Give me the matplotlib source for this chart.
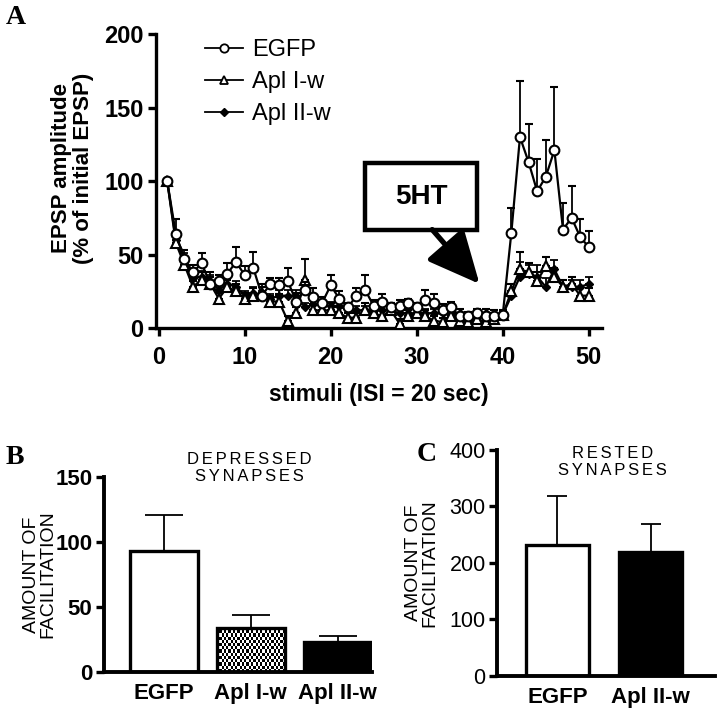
import numpy as np
import matplotlib
matplotlib.use("Agg")
import matplotlib.pyplot as plt
from matplotlib.patches import Rectangle
from matplotlib.lines import Line2D

plt.rcParams['font.family'] = ['Liberation Sans', 'DejaVu Sans']

# ---- panel A data ----
stimuli = np.arange(1, 51)
egfp = [100, 64, 47, 38, 44, 30, 32, 37, 45, 36, 41, 22, 30, 29, 32, 18, 26, 21, 17, 29,
        20, 14, 22, 26, 15, 18, 14, 15, 17, 14, 19, 17, 12, 14, 8, 8, 10, 8, 8, 9,
        65, 130, 113, 93, 103, 121, 67, 75, 62, 55]
egfp_err = [0, 10, 6, 5, 7, 8, 4, 7, 10, 6, 11, 6, 4, 5, 9, 6, 5, 6, 4, 7,
            5, 3, 5, 10, 4, 5, 3, 4, 3, 3, 7, 6, 4, 4, 5, 3, 3, 5, 4, 2,
            17, 38, 26, 22, 25, 43, 18, 22, 12, 11]
apl1 = [100, 58, 43, 28, 33, 30, 20, 28, 25, 20, 22, 24, 18, 18, 5, 10, 33, 12, 12, 12,
        10, 7, 7, 12, 10, 8, 12, 3, 8, 10, 8, 5, 4, 8, 5, 4, 6, 4, 6, 9,
        25, 40, 38, 32, 42, 35, 28, 30, 22, 22]
apl1_err = [0, 6, 5, 4, 5, 5, 4, 5, 5, 4, 5, 6, 4, 5, 3, 4, 14, 4, 4, 5,
            4, 3, 3, 5, 4, 4, 5, 3, 4, 5, 4, 3, 3, 4, 3, 3, 4, 3, 4, 3,
            5, 12, 6, 6, 6, 6, 5, 5, 6, 5]
apl2 = [100, 60, 47, 34, 35, 32, 26, 30, 28, 22, 24, 22, 20, 22, 22, 22, 14, 16, 16, 15,
        15, 12, 12, 12, 12, 12, 12, 10, 10, 10, 10, 10, 10, 10, 10, 8, 9, 10, 9, 9,
        22, 35, 37, 35, 28, 40, 28, 28, 28, 30]
apl2_err = [0, 5, 4, 4, 4, 4, 3, 4, 4, 3, 4, 3, 3, 4, 4, 4, 3, 3, 3, 3,
            3, 3, 3, 3, 3, 3, 3, 3, 3, 3, 3, 3, 3, 3, 3, 3, 3, 3, 3, 3,
            8, 10, 6, 8, 6, 6, 5, 5, 5, 5]

# ---- panel B / C data ----
b_groups = ['EGFP', 'Apl I-w', 'Apl II-w']
b_vals = [93, 34, 23]
b_err = [28, 10, 5]
c_groups = ['EGFP', 'Apl II-w']
c_vals = [232, 219]
c_err = [86, 49]

sp = '\u2006'  # small letter spacing for the little titles


def spaced(s):
    return '\n'.join(sp.join(w) for w in s.split('\n'))


fig = plt.figure(figsize=(7.2, 7.13), dpi=100)

# ================= panel A =================
ax = fig.add_axes([0.2167, 0.54, 0.619, 0.412])
kw = dict(color='black', lw=1.6, capsize=2.6, elinewidth=1.3, capthick=1.3)
z = np.zeros(len(stimuli))
ax.errorbar(stimuli, apl2, yerr=[z, apl2_err], marker='D', ms=4.5, mfc='black',
            mec='black', zorder=2, **kw)
ax.errorbar(stimuli, apl1, yerr=[z, apl1_err], marker='^', ms=6.5, mfc='white',
            mec='black', mew=1.5, zorder=3, **kw)
ax.errorbar(stimuli, egfp, yerr=[z, egfp_err], marker='o', ms=7, mfc='white',
            mec='black', mew=1.5, zorder=4, **kw)

ax.set_xlim(-0.3, 51.5)
ax.set_ylim(0, 200)
ax.set_xticks(np.arange(0, 51, 10))
ax.set_yticks([0, 50, 100, 150, 200])
for s in ['top', 'right']:
    ax.spines[s].set_visible(False)
for s in ['left', 'bottom']:
    ax.spines[s].set_linewidth(2.4)
ax.tick_params(width=2.4, length=6, labelsize=17, pad=3)
ax.tick_params(axis='x', pad=7)
for t in ax.get_xticklabels() + ax.get_yticklabels():
    t.set_fontweight('bold')
ax.set_ylabel('EPSP amplitude\n(% of initial EPSP)', fontsize=16, fontweight='bold',
              linespacing=1.05)
ax.yaxis.set_label_coords(-0.14, 0.545)
ax.set_xlabel('stimuli (ISI = 20 sec)', fontsize=16.5, fontweight='bold', labelpad=10)

handles = [Line2D([], [], color='black', lw=1.3, marker='o', ms=6, mfc='white', mew=1.3),
           Line2D([], [], color='black', lw=1.3, marker='^', ms=5.5, mfc='white', mew=1.3),
           Line2D([], [], color='black', lw=1.3, marker='D', ms=4.5, mfc='black')]
ax.legend(handles, ['EGFP', 'Apl I-w', 'Apl II-w'], loc='upper left',
          bbox_to_anchor=(0.062, 1.055), frameon=False, fontsize=17,
          handlelength=1.6, handletextpad=0.4, labelspacing=0.42)

# 5HT box and arrow
ax.add_patch(Rectangle((24, 67), 13, 45, fill=False, lw=3.2, ec='black', zorder=5))
ax.text(30.5, 89.5, '5HT', ha='center', va='center', fontsize=20, fontweight='bold')
ax.annotate('', xy=(37.3, 30), xytext=(31.8, 67),
            arrowprops=dict(arrowstyle='-|>,head_length=1.6,head_width=0.75',
                            lw=3.8, color='black', mutation_scale=20,
                            shrinkA=0, shrinkB=0))

fig.text(0.008, 0.975, 'A', fontsize=20, fontweight='bold', family='Liberation Serif',
         va='center')


def bar_panel(axb, groups, vals, errs, ymax, ystep, width, xlim, title, title_xy,
              bold_ticks, cap, lpad):
    x = np.arange(len(groups))
    bars = axb.bar(x, vals, width=width, color='white', edgecolor='black', lw=2.4,
                   zorder=2)
    axb.errorbar(x, vals, yerr=[np.zeros(len(vals)), errs], fmt='none', ecolor='black',
                 elinewidth=1.3, capsize=cap, capthick=1.3, zorder=1)
    axb.set_xlim(*xlim)
    axb.set_ylim(0, ymax)
    axb.set_yticks(np.arange(0, ymax + 1, ystep))
    axb.set_xticks(x)
    axb.set_xticklabels(groups, fontsize=16, fontweight='bold')
    for s in ['top', 'right']:
        axb.spines[s].set_visible(False)
    for s in ['left', 'bottom']:
        axb.spines[s].set_linewidth(2.8)
    axb.tick_params(axis='y', width=2.4, length=6, labelsize=16 if bold_ticks else 15.5,
                    pad=2)
    axb.tick_params(axis='x', length=0, pad=8)
    if bold_ticks:
        for t in axb.get_yticklabels():
            t.set_fontweight('bold')
    axb.set_ylabel('AMOUNT OF\nFACILITATION', fontsize=14, linespacing=0.95, labelpad=lpad)
    axb.text(title_xy[0], title_xy[1], spaced(title), transform=axb.transAxes,
             ha='center', va='center', fontsize=12, linespacing=1.15)
    return bars


# ================= panel B =================
axB = fig.add_axes([0.144, 0.0575, 0.372, 0.2735])
barsB = bar_panel(axB, b_groups, b_vals, b_err, 150, 50, 0.78, (-0.69, 2.39),
                  'DEPRESSED\nSYNAPSES', (0.545, 1.045), True, 13.5, -1)
barsB[2].set_facecolor('black')
# checkered fill for Apl I-w
p = barsB[1]
p.set_facecolor('none')
bx, by = p.get_x(), p.get_y()
bw, bh = p.get_width(), p.get_height()
checker = np.indices((14, 30)).sum(axis=0) % 2
im = axB.imshow(checker, cmap='gray', extent=(bx, bx + bw, by, by + bh),
                aspect='auto', interpolation='nearest', zorder=1.5)
im.set_clip_path(p)
axB.set_xlim(-0.69, 2.39)
axB.set_ylim(0, 150)
fig.text(0.008, 0.358, 'B', fontsize=20, fontweight='bold', family='Liberation Serif',
         va='center')

# ================= panel C =================
axC = fig.add_axes([0.690, 0.052, 0.303, 0.317])
barsC = bar_panel(axC, c_groups, c_vals, c_err, 400, 100, 0.67, (-0.65, 1.69),
                  'RESTED\nSYNAPSES', (0.53, 0.945), False, 7.5, 8)
barsC[1].set_facecolor('black')
fig.text(0.578, 0.362, 'C', fontsize=20, fontweight='bold', family='Liberation Serif',
         va='center')

fig.savefig('out.png', dpi=100)
